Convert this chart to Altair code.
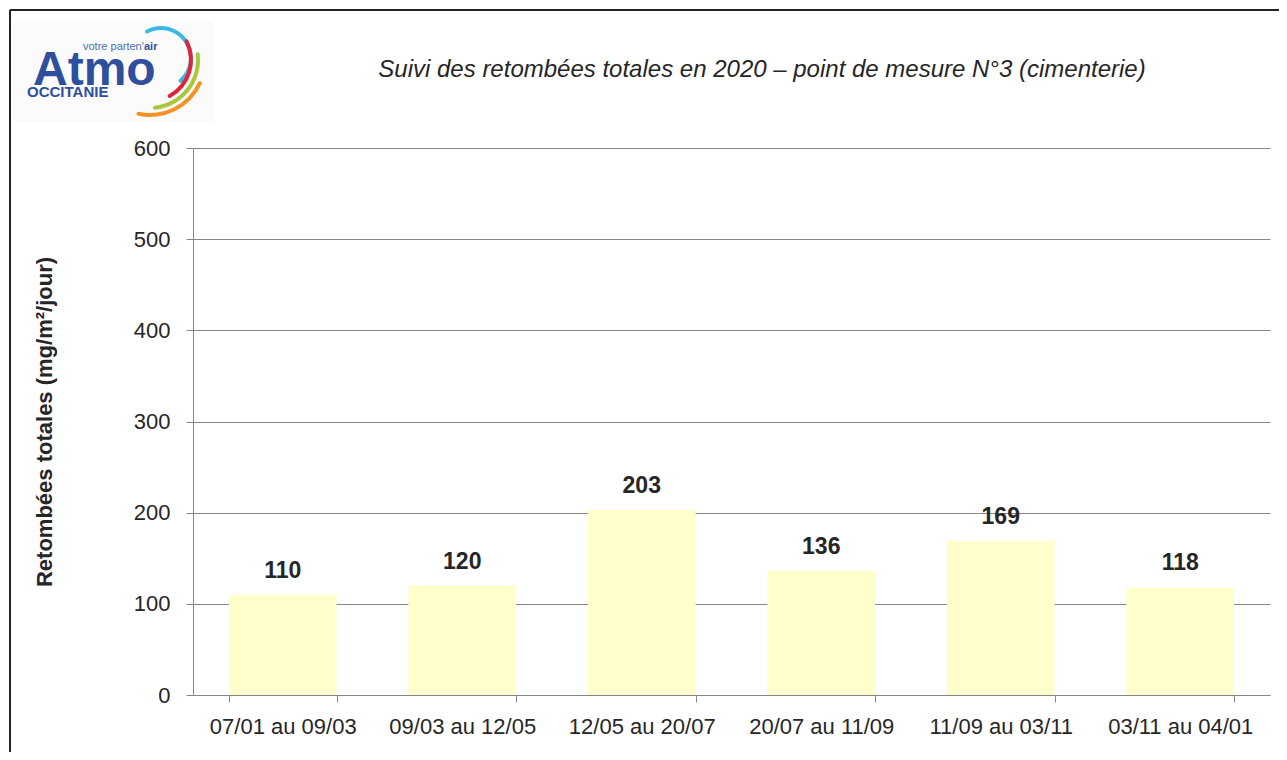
import altair as alt
import pandas as pd

periods = ["07/01 au 09/03", "09/03 au 12/05", "12/05 au 20/07",
           "20/07 au 11/09", "11/09 au 03/11", "03/11 au 04/01"]
values = [110, 120, 203, 136, 169, 118]
y_ticks = [0, 100, 200, 300, 400, 500, 600]

title_text = "Suivi des retombées totales en 2020 – point de mesure N°3 (cimenterie)"
y_title = "Retombées totales (mg/m²/jour)"

FONT = "Liberation Sans"
TXT = "#262626"
AXC = "#868686"

df = pd.DataFrame({"periode": periods, "valeur": values})
one = pd.DataFrame({"k": [0]})

x_enc = alt.X("periode:N", sort=periods,
              scale=alt.Scale(paddingInner=0.4, paddingOuter=0.2),
              axis=alt.Axis(title=None, labelAngle=0, labelFontSize=22, labelColor=TXT,
                            labelFont=FONT, labelPadding=14, tickSize=7, tickBand="extent",
                            domainColor=AXC, tickColor=AXC, grid=False))
y_enc = alt.Y("valeur:Q", scale=alt.Scale(domain=[0, 600], nice=False),
              axis=alt.Axis(title=y_title, values=y_ticks, labelFontSize=22, labelColor=TXT,
                            labelFont=FONT, labelPadding=16, tickSize=7,
                            domainColor=AXC, tickColor=AXC, gridColor=AXC, grid=True,
                            titleFont=FONT, titleFontSize=22, titleFontWeight="bold",
                            titleColor=TXT, titlePadding=77))

bars = alt.Chart(df).mark_bar(color="#FFFFCC").encode(x=x_enc, y=y_enc)
labels = alt.Chart(df).mark_text(font=FONT, fontSize=23, fontWeight="bold", color=TXT,
                                 baseline="alphabetic", dy=-17).encode(
    x=alt.X("periode:N", sort=periods), y="valeur:Q", text="valeur:Q")

# title
title = alt.Chart(one).mark_text(text=title_text, font=FONT, fontSize=24, fontStyle="italic",
                                 color=TXT, baseline="middle", align="center").encode(
    x=alt.value(569), y=alt.value(-78))

# frame (top and left edges)
top_line = alt.Chart(one).mark_rule(color="#222222", strokeWidth=2).encode(
    x=alt.value(-183), x2=alt.value(1100), y=alt.value(-138))
left_line = alt.Chart(one).mark_rule(color="#222222", strokeWidth=2).encode(
    x=alt.value(-183), y=alt.value(-138), y2=alt.value(620))

# logo
logo_bg = alt.Chart(one).mark_rect(color="#fbfbfb").encode(
    x=alt.value(-180), x2=alt.value(20), y=alt.value(-128), y2=alt.value(-26))
atmo = alt.Chart(one).mark_text(text="Atmo", font=FONT, fontSize=48, fontWeight="bold",
                                color="#2d4f9e", align="left", baseline="alphabetic").encode(
    x=alt.value(-160), y=alt.value(-63))
votre = alt.Chart(one).mark_text(text="votre parten'", font=FONT, fontSize=11,
                                 color="#4a6fb5", align="left", baseline="middle").encode(
    x=alt.value(-110), y=alt.value(-101))
air = alt.Chart(one).mark_text(text="air", font=FONT, fontSize=11, fontWeight="bold",
                               color="#2d4f9e", align="left", baseline="middle").encode(
    x=alt.value(-49), y=alt.value(-101))
occ = alt.Chart(one).mark_text(text="OCCITANIE", font=FONT, fontSize=15, fontWeight="bold",
                               color="#2d4f9e", align="left", baseline="alphabetic").encode(
    x=alt.value(-166), y=alt.value(-51))

def arc(cx, cy, r, t1, t2, col):
    return alt.Chart(one).mark_arc(radius=r + 2, radius2=r - 2, theta=t1, theta2=t2,
                                   color=col, cornerRadius=2).encode(
        x=alt.value(cx), y=alt.value(cy))

arcs = [
    arc(-32, -90, 30, 5.73, 8.78, "#3bb8e6"),
    arc(-43, -88, 41, 1.05, 2.69, "#e0243c"),
    arc(-43, -88, 48, 1.41, 3.08, "#a8c73a"),
    arc(-43, -88, 55, 1.97, 3.39, "#f39325"),
]

chart = alt.layer(bars, labels, title, top_line, left_line, logo_bg, atmo, votre, air, occ,
                  *arcs).properties(
    width=1077, height=547,
    autosize=alt.AutoSizeParams(type="none"),
    padding={"left": 185, "top": 140, "right": 9, "bottom": 57},
    background="white",
).configure_view(stroke=None)

chart.save("out.html", embed_options={"renderer": "svg", "actions": False})
